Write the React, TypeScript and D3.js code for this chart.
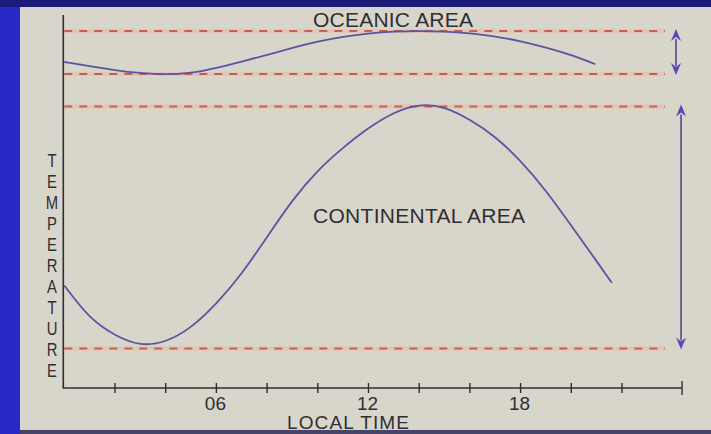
import React from 'react';
import * as d3 from 'd3';

// local time (h) and relative temperature
const contHours = [0, 1, 2, 3, 4, 5, 6, 7, 8, 9, 10, 11, 12, 13, 14, 15, 16, 17, 18, 19, 20, 21, 21.6];
const contTemp = [27.5, 18.5, 14, 11.2, 12.2, 16, 22.5, 30.5, 40.5, 50.5, 58.5, 64.5, 69.8, 74, 76.2, 75.5, 72, 67.5, 61, 53, 43.5, 34, 28.2];

const oceanHours = [0, 1, 2, 3, 4, 5, 6, 7, 8, 9, 10, 11, 12, 13, 14, 15, 16, 17, 18, 19, 20, 20.95];
const oceanTemp = [87.4, 86.3, 85.2, 84.4, 84.0, 84.4, 85.8, 87.5, 89.3, 91.2, 92.9, 94.2, 95.1, 95.6, 95.7, 95.6, 95.1, 94.3, 93.0, 91.3, 89.3, 86.8];

// dashed reference levels: ocean max/min, continent max/min
const levels = [95.7, 84.2, 75.5, 10.6];
const ranges = [
  { hi: 95.7, lo: 84.2, at: 24.13 },
  { hi: 75.5, lo: 10.6, at: 24.33 }
];

const tickHours = [2, 4, 6, 8, 10, 12, 14, 16, 18, 20, 22];
const tickLabels = ['06', '12', '18'];
const yLetters = 'TEMPERATURE'.split('');

const W = 711;
const H = 434;
const ink = '#2f2f33';
const curveColor = '#5a55a2';
const arrowColor = '#5b46bb';
const dashColor = '#c9604c';
const font = "'Liberation Sans', Arial, sans-serif";

export default function App() {
  const x = d3.scaleLinear().domain([0, 24]).range([64.3, 672.7]);
  const y = d3.scaleLinear().domain([0, 100]).range([388, 15]);
  const axisEnd = 24.37;

  const line = d3
    .line<[number, number]>()
    .x((d) => x(d[0]))
    .y((d) => y(d[1]))
    .curve(d3.curveBasis);

  const cont = contHours.map((h, i) => [h, contTemp[i]] as [number, number]);
  const ocean = oceanHours.map((h, i) => [h, oceanTemp[i]] as [number, number]);

  const head = (cx: number, cy: number, dir: number) => {
    // dir -1 = pointing up, 1 = pointing down
    const base = cy - dir * 12;
    const notch = cy - dir * 8;
    return `M${cx},${cy} L${cx - 5},${base} L${cx},${notch} L${cx + 5},${base} Z`;
  };

  return (
    <svg width={W} height={H} style={{ position: 'absolute', left: 0, top: 0 }}>
      <rect width={W} height={H} fill="#2828c6" />
      <rect x={0} y={0} width={W} height={7} fill="#1b1b78" />
      <rect x={20} y={7} width={W - 20} height={423} fill="#d8d5cb" />
      <rect x={20} y={430} width={W - 20} height={4} fill="#44446a" />

      {/* dashed levels */}
      {levels.map((t, i) => (
        <g key={`lv-${i}`}>
          <line x1={x(0)} x2={x(23.7)} y1={y(t)} y2={y(t)} stroke="#eab6a6" strokeWidth={4} opacity={0.5} />
          <line
            x1={x(0)}
            x2={x(23.7)}
            y1={y(t)}
            y2={y(t)}
            stroke={dashColor}
            strokeWidth={2}
            strokeDasharray="8 7"
          />
        </g>
      ))}

      {/* curves */}
      <path d={line(ocean)} fill="none" stroke={curveColor} strokeWidth={1.8} />
      <path d={line(cont)} fill="none" stroke={curveColor} strokeWidth={1.8} />

      {/* range arrows */}
      {ranges.map((r, i) => {
        const cx = x(r.at);
        return (
          <g key={`ar-${i}`}>
            <line x1={cx} x2={cx} y1={y(r.hi) + 8} y2={y(r.lo) - 8} stroke="#4a3f8a" strokeWidth={1.5} />
            <path d={head(cx, y(r.hi) - 2, -1)} fill={arrowColor} />
            <path d={head(cx, y(r.lo) + 1, 1)} fill={arrowColor} />
          </g>
        );
      })}

      {/* axes */}
      <line x1={x(0) - 1} x2={x(0) - 1} y1={y(100)} y2={y(0)} stroke={ink} strokeWidth={1.6} />
      <line x1={x(0) - 1.8} x2={x(axisEnd)} y1={y(0)} y2={y(0)} stroke={ink} strokeWidth={1.6} />
      {tickHours.map((h) => (
        <line key={`t-${h}`} x1={x(h)} x2={x(h)} y1={y(0) - 5} y2={y(0) + 5} stroke={ink} strokeWidth={1.4} />
      ))}
      <line x1={x(axisEnd)} x2={x(axisEnd)} y1={y(0) - 7} y2={y(0) + 7} stroke={ink} strokeWidth={1.4} />

      {tickLabels.map((l) => (
        <text key={l} x={x(+l) - 1} y={410} textAnchor="middle" fontFamily={font} fontSize={19} fill={ink}>
          {l}
        </text>
      ))}
      <text x={348} y={429} textAnchor="middle" fontFamily={font} fontSize={19} fill={ink} textLength={122}>
        LOCAL TIME
      </text>

      {yLetters.map((c, i) => (
        <text
          key={`yl-${i}`}
          x={52}
          y={160 + i * 21 + 7}
          textAnchor="middle"
          fontFamily={font}
          fontSize={19}
          fill={ink}
          transform={`translate(52,0) scale(0.78,1) translate(-52,0)`}
        >
          {c}
        </text>
      ))}

      <text x={313} y={27} fontFamily={font} fontSize={21} fill={ink} textLength={160}>
        OCEANIC AREA
      </text>
      <text x={313} y={223} fontFamily={font} fontSize={21} fill={ink} textLength={212}>
        CONTINENTAL AREA
      </text>
    </svg>
  );
}
